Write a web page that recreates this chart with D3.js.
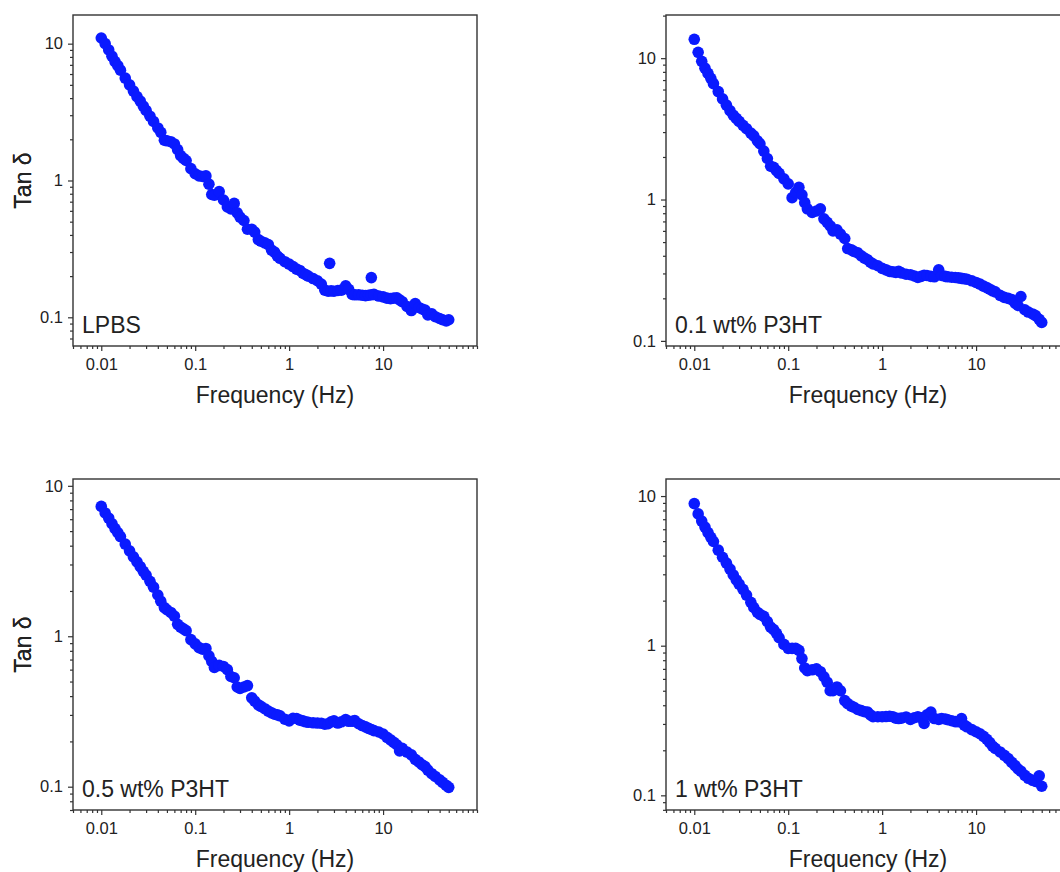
<!DOCTYPE html>
<html>
<head>
<meta charset="utf-8">
<title>Tan delta vs frequency</title>
<script src="https://cdn.jsdelivr.net/npm/d3@7"></script>
<style>
    body { margin: 0; background: #fff; }
    svg text { font-family: Arial, "Liberation Sans", sans-serif; fill: #222; }
    .tick line { stroke: #333; stroke-width: 1.2; }
    .frame { fill: none; stroke: #333; stroke-width: 1.4; }
</style>
</head>
<body>
<svg id="chart" width="1060" height="872"></svg>
<script>
// frequency sweep (Hz), shared by all four samples
var freq = [
    0.01, 0.011, 0.012, 0.013, 0.014, 0.015, 0.016,
    0.018, 0.02, 0.022, 0.024, 0.026, 0.028, 0.03, 0.033, 0.036, 0.04, 0.043, 0.047,
    0.05, 0.055, 0.06, 0.065, 0.07, 0.075, 0.08, 0.09,
    0.1, 0.11, 0.12, 0.13, 0.14, 0.15, 0.16, 0.18, 0.2, 0.22, 0.24, 0.26, 0.28, 0.3, 0.33, 0.36, 0.4, 0.43, 0.47,
    0.5, 0.55, 0.6, 0.65, 0.7, 0.75, 0.8, 0.9,
    1, 1.1, 1.2, 1.3, 1.4, 1.5, 1.6, 1.8, 2, 2.2, 2.4, 2.6, 2.8, 3, 3.3, 3.6, 4, 4.3, 4.7,
    5, 5.5, 6, 6.5, 7, 7.5, 8, 9,
    10, 11, 12, 13, 14, 15, 16, 18, 20, 22, 24, 26, 28, 30, 33, 36, 40, 43, 47, 50
];

var tanLPBS = [
    11.0, 10.0, 9.0, 8.1, 7.4, 6.9, 6.4,
    5.6, 5.0, 4.5, 4.1, 3.8, 3.5, 3.25, 2.95, 2.7, 2.42, 2.25, 1.97,
    1.95, 1.92, 1.85, 1.68, 1.52, 1.45, 1.40, 1.22,
    1.12, 1.08, 1.07, 1.08, 0.94, 0.79, 0.78, 0.83, 0.72, 0.64, 0.62, 0.68, 0.58, 0.54, 0.51, 0.44, 0.44, 0.42, 0.37,
    0.36, 0.35, 0.34, 0.31, 0.30, 0.28, 0.27, 0.255,
    0.245, 0.235, 0.225, 0.22, 0.21, 0.205, 0.20, 0.192, 0.185, 0.175, 0.158, 0.155, 0.156, 0.155, 0.157, 0.158, 0.17, 0.16, 0.147,
    0.146, 0.146, 0.145, 0.144, 0.145, 0.146, 0.147, 0.143,
    0.141, 0.138, 0.137, 0.138, 0.139, 0.134, 0.13, 0.12, 0.112, 0.126, 0.118, 0.115, 0.113, 0.104, 0.106, 0.101, 0.098, 0.096, 0.094, 0.096
];
// stray points off the LPBS curve
var extraLPBS = [[2.7, 0.248], [7.5, 0.195]];

var tanP01 = [
    13.6, 11.0, 9.5, 8.5, 7.8, 7.2, 6.6,
    5.8, 5.15, 4.65, 4.25, 3.95, 3.75, 3.57, 3.35, 3.17, 2.95, 2.82, 2.6,
    2.48, 2.2, 1.95, 1.72, 1.69, 1.6, 1.53, 1.40,
    1.29, 1.03, 1.12, 1.22, 1.08, 0.95, 0.86, 0.81, 0.83, 0.86, 0.73, 0.69, 0.65, 0.60, 0.61, 0.57, 0.53, 0.45, 0.44,
    0.43, 0.42, 0.40, 0.385, 0.375, 0.36, 0.35, 0.34,
    0.326, 0.318, 0.31, 0.308, 0.305, 0.31, 0.303, 0.296, 0.294, 0.288, 0.281, 0.286, 0.291, 0.29, 0.286, 0.284, 0.318, 0.29, 0.286,
    0.284, 0.282, 0.281, 0.279, 0.277, 0.275, 0.273, 0.266,
    0.259, 0.252, 0.244, 0.238, 0.232, 0.226, 0.222, 0.21, 0.203, 0.2, 0.196, 0.185, 0.178, 0.206, 0.166, 0.16, 0.155, 0.151, 0.142, 0.135
];

var tanP05 = [
    7.3, 6.6, 6.1, 5.6, 5.2, 4.88, 4.6,
    4.1, 3.7, 3.37, 3.12, 2.9, 2.7, 2.55, 2.32, 2.12, 1.88, 1.71, 1.55,
    1.5, 1.44, 1.36, 1.2, 1.15, 1.12, 1.09, 0.95,
    0.89, 0.84, 0.82, 0.83, 0.74, 0.68, 0.62, 0.64, 0.63, 0.6, 0.54, 0.53, 0.46, 0.45, 0.46, 0.47, 0.39, 0.37, 0.35,
    0.342, 0.33, 0.318, 0.31, 0.303, 0.3, 0.296, 0.281,
    0.274, 0.285, 0.284, 0.277, 0.274, 0.27, 0.268, 0.266, 0.265, 0.264, 0.26, 0.262, 0.27, 0.274, 0.265, 0.27, 0.279, 0.272, 0.272,
    0.275, 0.262, 0.255, 0.25, 0.244, 0.24, 0.236, 0.231,
    0.224, 0.213, 0.205, 0.197, 0.19, 0.173, 0.18, 0.17, 0.163, 0.152, 0.146, 0.14, 0.136, 0.129, 0.122, 0.117, 0.111, 0.107, 0.102, 0.099
];

var tanP10 = [
    8.9, 7.6, 6.8, 6.2, 5.7, 5.3, 4.97,
    4.35, 3.9, 3.56, 3.25, 2.97, 2.75, 2.58, 2.38, 2.18, 1.95, 1.8, 1.67,
    1.62, 1.57, 1.45, 1.33, 1.28, 1.21, 1.13, 1.02,
    0.96, 0.96, 0.96, 0.93, 0.82, 0.71, 0.68, 0.69, 0.70, 0.67, 0.62, 0.57, 0.5, 0.5, 0.53, 0.5, 0.43, 0.41, 0.395,
    0.388, 0.375, 0.368, 0.362, 0.36, 0.345, 0.335, 0.335,
    0.335, 0.336, 0.338, 0.335, 0.328, 0.326, 0.328, 0.334, 0.322, 0.33, 0.335, 0.33, 0.302, 0.345, 0.36, 0.326, 0.322, 0.326, 0.324,
    0.32, 0.315, 0.311, 0.31, 0.326, 0.295, 0.287, 0.275,
    0.266, 0.258, 0.248, 0.237, 0.225, 0.213, 0.206, 0.195, 0.185, 0.176, 0.166, 0.158, 0.15, 0.145, 0.136, 0.13, 0.126, 0.124, 0.135, 0.115
];

var sampleNames = ["LPBS", "0.1 wt% P3HT", "0.5 wt% P3HT", "1 wt% P3HT"];
var xTicks = [0.01, 0.1, 1, 10];
var yTicks = [0.1, 1, 10];
var xRange = [0.005, 100];
var yRanges = [[0.0617, 16.2], [0.092, 20.2], [0.07, 11.1], [0.0798, 13.0]];

var svg = d3.select("#chart");
var blue = "#0a1aff";

// panel boxes (left, top) - plot frame is 404 x 331
var boxes = [[73, 15], [666, 15], [73, 479], [666, 479]];
var pw = 404, ph = 331;

var series = [
    d3.zip(freq, tanLPBS).concat(extraLPBS),
    d3.zip(freq, tanP01),
    d3.zip(freq, tanP05),
    d3.zip(freq, tanP10)
];

function minorTicks(domain, majors) {
    var out = [];
    var lo = Math.floor(Math.log10(domain[0])), hi = Math.ceil(Math.log10(domain[1]));
    for (var e = lo; e <= hi; e++) {
        for (var m = 1; m < 10; m++) {
            var v = m * Math.pow(10, e);
            if (v >= domain[0] && v <= domain[1] && majors.indexOf(+v.toPrecision(6)) < 0) out.push(v);
        }
    }
    return out;
}

var fmt = d3.format("~g");

boxes.forEach(function (b, i) {
    var g = svg.append("g").attr("transform", "translate(" + b[0] + "," + b[1] + ")");

    var x = d3.scaleLog().domain(xRange).range([0, pw]);
    var y = d3.scaleLog().domain(yRanges[i]).range([ph, 0]);

    // minor ticks
    g.append("g").attr("transform", "translate(0," + ph + ")")
        .call(d3.axisBottom(x).tickValues(minorTicks(xRange, xTicks)).tickSize(3).tickFormat(""))
        .call(function (a) { a.select(".domain").remove(); });
    g.append("g")
        .call(d3.axisLeft(y).tickValues(minorTicks(yRanges[i], yTicks)).tickSize(3).tickFormat(""))
        .call(function (a) { a.select(".domain").remove(); });

    // major ticks
    g.append("g").attr("transform", "translate(0," + ph + ")")
        .call(d3.axisBottom(x).tickValues(xTicks).tickSize(5).tickPadding(7).tickFormat(fmt))
        .call(function (a) {
            a.select(".domain").remove();
            a.selectAll("text").style("font-size", "16.5px").style("fill", "#222");
        });
    g.append("g")
        .call(d3.axisLeft(y).tickValues(yTicks).tickSize(5).tickPadding(5).tickFormat(fmt))
        .call(function (a) {
            a.select(".domain").remove();
            a.selectAll("text").style("font-size", "16.5px").style("fill", "#222");
        });

    g.append("rect").attr("class", "frame")
        .attr("width", pw).attr("height", ph);

    g.append("g").selectAll("circle")
        .data(series[i])
        .join("circle")
        .attr("cx", function (d) { return x(d[0]); })
        .attr("cy", function (d) { return y(d[1]); })
        .attr("r", 5.8)
        .attr("fill", blue);

    g.append("text")
        .attr("x", 9).attr("y", ph - 13)
        .style("font-size", "23px")
        .text(sampleNames[i]);

    g.append("text")
        .attr("x", pw / 2).attr("y", ph + 57)
        .attr("text-anchor", "middle")
        .style("font-size", "23px")
        .text("Frequency (Hz)");

    g.append("text")
        .attr("transform", "translate(" + (31 - b[0]) + "," + (ph / 2) + ") rotate(-90)")
        .attr("text-anchor", "middle")
        .style("font-size", "23px")
        .text("Tan δ");
});
</script>
</body>
</html>
